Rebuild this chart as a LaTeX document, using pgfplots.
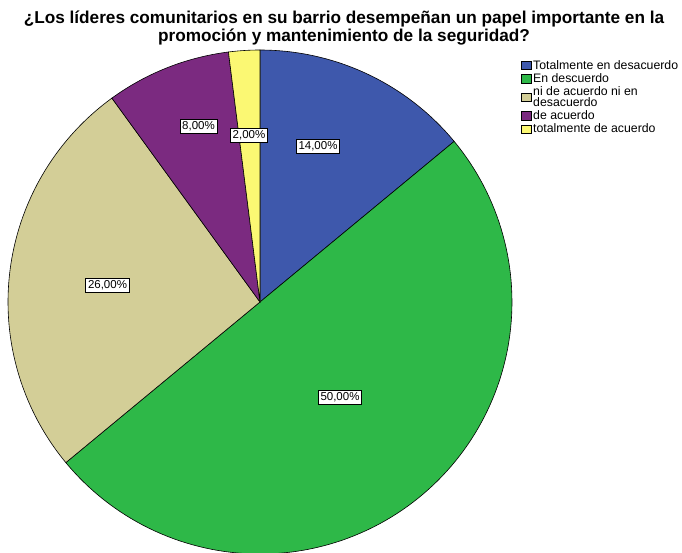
\documentclass[border=0pt]{standalone}
\usepackage{pgfplots}
\pgfplotsset{compat=1.18}
\usepackage{pgfplotstable}
\usepackage{fontspec}
\setmainfont{Liberation Sans}
\definecolor{cA}{HTML}{3E58AC}
\definecolor{cB}{HTML}{2EB848}
\definecolor{cC}{HTML}{D3CE97}
\definecolor{cD}{HTML}{7B2A80}
\definecolor{cE}{HTML}{FBF873}
\pgfplotstableread{
idx value
0 14
1 50
2 26
3 8
4 2
}\piedata
\begin{document}
\begin{tikzpicture}
\pgfplotstablegetelem{0}{value}\of\piedata \let\vA\pgfplotsretval
\pgfplotstablegetelem{1}{value}\of\piedata \let\vB\pgfplotsretval
\pgfplotstablegetelem{2}{value}\of\piedata \let\vC\pgfplotsretval
\pgfplotstablegetelem{3}{value}\of\piedata \let\vD\pgfplotsretval
\pgfplotstablegetelem{4}{value}\of\piedata \let\vE\pgfplotsretval
\pgfmathsetmacro\aA{90}
\pgfmathsetmacro\aB{\aA-3.6*\vA}
\pgfmathsetmacro\aC{\aB-3.6*\vB}
\pgfmathsetmacro\aD{\aC-3.6*\vC}
\pgfmathsetmacro\aE{\aD-3.6*\vD}
\pgfmathsetmacro\aF{\aE-3.6*\vE}
\useasboundingbox (0,0) rectangle (682pt,552pt);
\begin{axis}[
  at={(0,0)}, anchor=south west,
  width=682pt, height=552pt, scale only axis,
  xmin=0, xmax=682, ymin=0, ymax=552,
  hide axis,
  legend style={at={(axis cs:520,495)}, anchor=north west, draw=none, fill=none,
    font=\fontsize{12.3}{11}\selectfont, row sep=-1.2pt, inner sep=1pt,
    cells={align=left, anchor=west}},
  legend image code/.code={\draw[#1, draw=black, line width=0.5pt] (0pt,-4.3pt) rectangle (9.5pt,4.3pt);},
]
\addplot[fill=cA, draw=black, line width=0.6pt, domain=\aB:\aA, samples=60, variable=\t]
  ({260+252*cos(t)},{250+252*sin(t)}) -- (axis cs:260,250) -- cycle;
\addlegendentry{Totalmente en desacuerdo}
\addplot[fill=cB, draw=black, line width=0.6pt, domain=\aC:\aB, samples=120, variable=\t]
  ({260+252*cos(t)},{250+252*sin(t)}) -- (axis cs:260,250) -- cycle;
\addlegendentry{En descuerdo}
\addplot[fill=cC, draw=black, line width=0.6pt, domain=\aD:\aC, samples=80, variable=\t]
  ({260+252*cos(t)},{250+252*sin(t)}) -- (axis cs:260,250) -- cycle;
\addlegendentry{ni de acuerdo ni en\\desacuerdo}
\addplot[fill=cD, draw=black, line width=0.6pt, domain=\aE:\aD, samples=40, variable=\t]
  ({260+252*cos(t)},{250+252*sin(t)}) -- (axis cs:260,250) -- cycle;
\addlegendentry{de acuerdo}
\addplot[fill=cE, draw=black, line width=0.6pt, domain=\aF:\aE, samples=20, variable=\t]
  ({260+252*cos(t)},{250+252*sin(t)}) -- (axis cs:260,250) -- cycle;
\addlegendentry{totalmente de acuerdo}
\tikzset{lbl/.style={draw=black, fill=white, line width=0.8pt, inner sep=2.2pt, font=\fontsize{11.5}{12}\selectfont}}
\node[lbl] at (axis cs:318,405.5) {14,00\%};
\node[lbl] at (axis cs:340,155) {50,00\%};
\node[lbl] at (axis cs:107.5,266.5) {26,00\%};
\node[lbl] at (axis cs:198.5,426) {8,00\%};
\node[lbl] at (axis cs:249,417) {2,00\%};
\node[align=center, font=\fontsize{17.2}{18}\selectfont\bfseries, anchor=north, inner sep=0pt]
  at (axis cs:344,541) {¿Los líderes comunitarios en su barrio desempeñan un papel importante en la\\ promoción y mantenimiento de la seguridad?};
\end{axis}
\end{tikzpicture}
\end{document}
